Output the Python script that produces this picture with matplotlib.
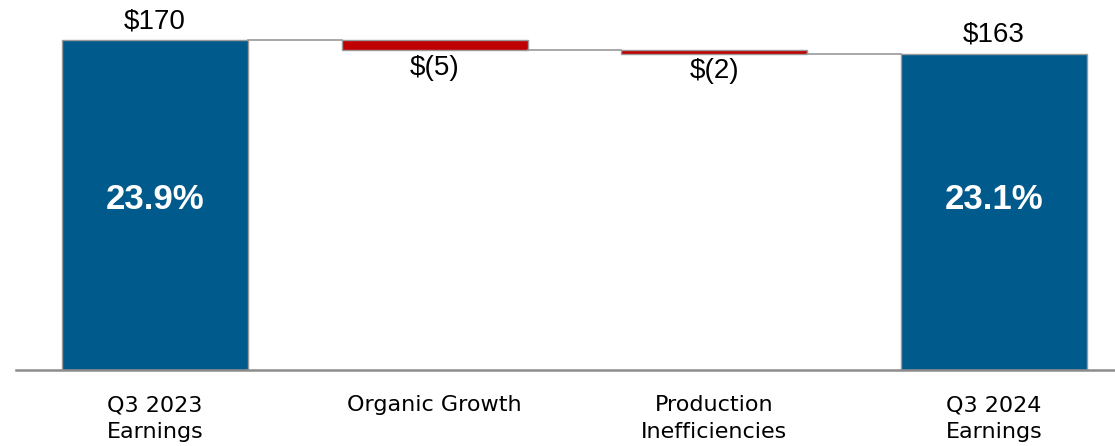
import matplotlib.pyplot as plt

# Earnings bridge, Q3 2023 -> Q3 2024 ($ millions)
categories = ['Q3 2023\nEarnings', 'Organic Growth', 'Production\nInefficiencies', 'Q3 2024\nEarnings']
start_value = 170
deltas = [-5, -2]
end_value = 163
margins = ['23.9%', '23.1%']
value_labels = ['$170', '$(5)', '$(2)', '$163']

BLUE = '#005A8C'
RED = '#C00000'
EDGE = '#9A9A9A'

fig = plt.figure(figsize=(11.15, 4.46), dpi=100)
ax = fig.add_axes([16 / 1115, 76 / 446, 1 - 16 / 1115, 370 / 446])

width = 0.666
x = list(range(len(categories)))

# Totals
ax.bar(x[0], start_value, width=width, color=BLUE, edgecolor=EDGE, linewidth=1)
ax.bar(x[-1], end_value, width=width, color=BLUE, edgecolor=EDGE, linewidth=1)

# Floating deltas
running = start_value
levels = [start_value]
for i, d in enumerate(deltas, start=1):
    ax.bar(x[i], abs(d), bottom=running + min(d, 0), width=width,
           color=RED, edgecolor=EDGE, linewidth=1)
    running += d
    levels.append(running)

# Connectors between bars
for i in range(len(categories) - 1):
    ax.plot([x[i] + width / 2, x[i + 1] - width / 2], [levels[i], levels[i]],
            color=EDGE, linewidth=1.2, zorder=1)

# Value labels
ax.text(x[0], start_value + 3, value_labels[0], ha='center', va='bottom',
        fontsize=20, family='Liberation Sans')
ax.text(x[-1], end_value + 3, value_labels[-1], ha='center', va='bottom',
        fontsize=20, family='Liberation Sans')
for i, d in enumerate(deltas, start=1):
    ax.text(x[i], levels[i] - 2.5, value_labels[i], ha='center', va='top',
            fontsize=20, family='Liberation Sans')

# Margin labels inside the totals
ax.text(x[0], 88, margins[0], ha='center', va='center', color='white',
        fontsize=25, fontweight='bold', family='Liberation Sans')
ax.text(x[-1], 88, margins[1], ha='center', va='center', color='white',
        fontsize=25, fontweight='bold', family='Liberation Sans')

ax.set_xlim(-0.497, 3.433)
ax.set_ylim(0, 190.6)
ax.set_xticks(x)
ax.set_xticklabels(categories, fontsize=16, linespacing=1.45)
ax.tick_params(axis='x', length=0, pad=18)
ax.set_yticks([])
for side in ['top', 'right', 'left']:
    ax.spines[side].set_visible(False)
ax.spines['bottom'].set_color('#8C8C8C')
ax.spines['bottom'].set_linewidth(1.8)

fig.savefig('out.png', dpi=100)
